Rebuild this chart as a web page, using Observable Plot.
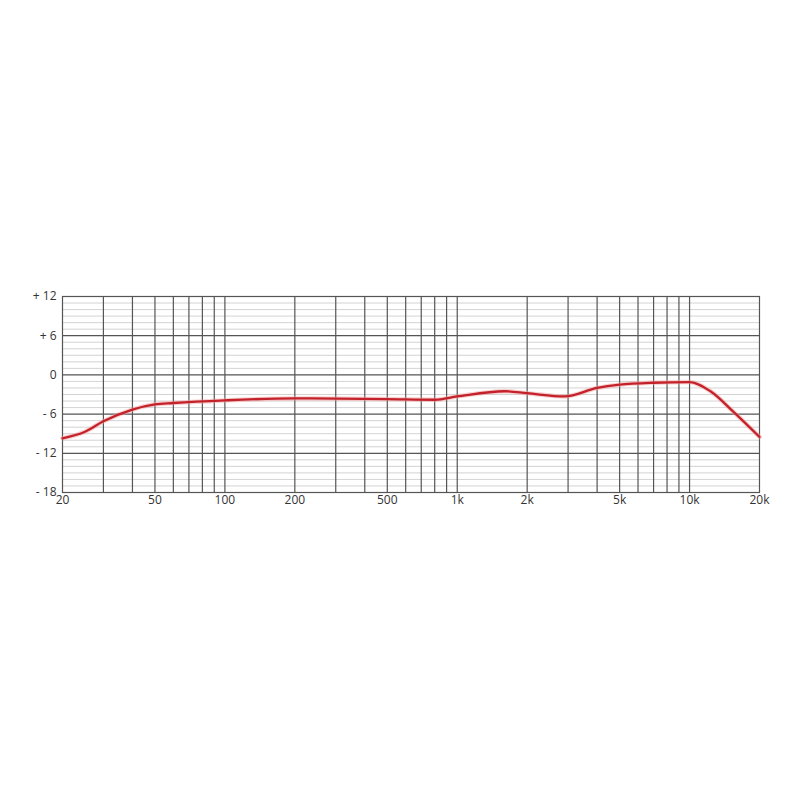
<!DOCTYPE html>
<html>
<head>
<meta charset="utf-8">
<script src="https://cdn.jsdelivr.net/npm/d3@7"></script>
<script src="https://cdn.jsdelivr.net/npm/@observablehq/plot@0.6"></script>
<style>
  html, body { margin: 0; padding: 0; background: #fff; }
  #chart { width: 800px; height: 800px; }
</style>
</head>
<body>
<div id="chart"></div>
<script>
const freqs = [20, 25, 30, 40, 50, 60, 100, 200, 500, 800, 1000, 1600, 2000, 2900, 4000, 5000, 7000, 10000, 12300, 15500, 20000];
const levels = [-9.7, -8.7, -7.1, -5.3, -4.5, -4.3, -3.9, -3.6, -3.7, -3.8, -3.3, -2.5, -2.8, -3.3, -2.0, -1.5, -1.2, -1.1, -2.5, -5.7, -9.5];

const xTickValues = [20, 50, 100, 200, 500, 1000, 2000, 5000, 10000, 20000];
const xTickLabels = ["20", "50", "100", "200", "500", "1k", "2k", "5k", "10k", "20k"];
const yTickValues = [12, 6, 0, -6, -12, -18];
const yTickLabels = ["+ 12", "+ 6", "0", "- 6", "- 12", "- 18"];

const xMajorGrid = [30, 40, 50, 60, 70, 80, 90, 100, 200, 300, 400, 500, 600, 700, 800, 900, 1000, 2000, 3000, 4000, 5000, 6000, 7000, 8000, 9000, 10000];
const yMinorGrid = d3.range(-17, 12).filter(v => v % 6 !== 0);
const yMajorGrid = [-12, -6, 0, 6];

const data = freqs.map((f, i) => ({f, db: levels[i]}));
const xTicks = xTickValues.map((v, i) => ({v, label: xTickLabels[i]}));
const yTicks = yTickValues.map((v, i) => ({v, label: yTickLabels[i]}));

const chart = Plot.plot({
  width: 800,
  height: 800,
  marginLeft: 62,
  marginRight: 41,
  marginTop: 296,
  marginBottom: 308,
  style: {fontFamily: "'Open Sans', sans-serif", fontSize: "12px", color: "#333", background: "#fff"},
  x: {type: "log", domain: [20, 20000], range: [62, 759], axis: null},
  y: {domain: [-18, 12], axis: null},
  marks: [
    Plot.ruleY(yMinorGrid, {stroke: "#c8c8c8", strokeWidth: 0.8}),
    Plot.ruleY(yMajorGrid, {stroke: "#555", strokeWidth: 1.2}),
    Plot.ruleX(xMajorGrid, {stroke: "#555", strokeWidth: 1.2}),
    Plot.frame({stroke: "#555", strokeWidth: 1.2}),
    Plot.line(data, {x: "f", y: "db", stroke: "#f3a0a0", strokeWidth: 4.5, curve: "monotone-x", strokeOpacity: 0.5}),
    Plot.line(data, {x: "f", y: "db", stroke: "#c4222a", strokeWidth: 2.3, curve: "monotone-x"}),
    Plot.text(xTicks, {x: "v", text: "label", frameAnchor: "bottom", dy: 11, fill: "#333", fontSize: 12}),
    Plot.text(yTicks, {y: "v", text: "label", frameAnchor: "left", dx: -6, textAnchor: "end", fill: "#333", fontSize: 12})
  ]
});
document.getElementById("chart").appendChild(chart);
</script>
</body>
</html>
